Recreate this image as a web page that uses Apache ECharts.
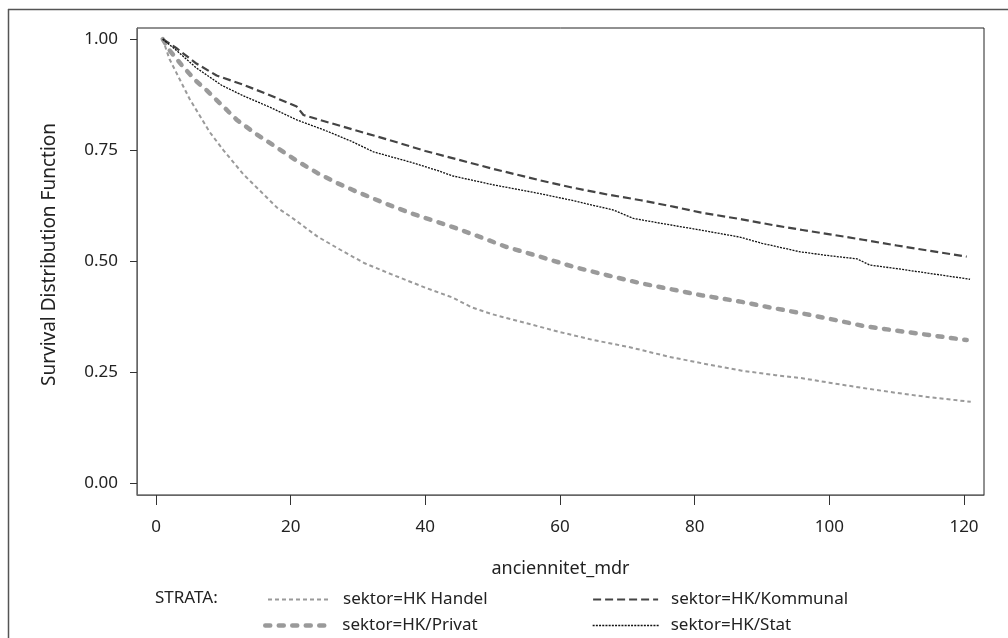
<!DOCTYPE html>
<html>
<head>
<meta charset="utf-8">
<script src="https://cdn.jsdelivr.net/npm/echarts@6/dist/echarts.min.js"></script>
<style>
html,body{margin:0;padding:0;background:#fff;}
#chart{width:1008px;height:638px;}
</style>
</head>
<body>
<div id="chart"></div>
<script>
// ---- data ----
const xTicks = [0, 20, 40, 60, 80, 100, 120];
const yTicks = [0, 0.25, 0.5, 0.75, 1];

const handelX = [1, 2, 3, 4, 5, 6, 8, 10, 13, 16, 18, 20, 24, 28, 31, 35, 40, 44, 47, 50, 57, 60, 65, 70, 72, 76, 81, 87, 92, 96, 100, 105, 110, 115, 121];
const handelY = [1.000, 0.955, 0.925, 0.895, 0.865, 0.840, 0.790, 0.750, 0.695, 0.650, 0.620, 0.600, 0.555, 0.520, 0.495, 0.470, 0.440, 0.418, 0.395, 0.380, 0.352, 0.340, 0.322, 0.307, 0.300, 0.285, 0.270, 0.253, 0.243, 0.236, 0.226, 0.214, 0.203, 0.193, 0.183];

const privatX = [1, 2, 4, 6, 7.5, 10, 12, 15, 18, 21, 24, 27, 30, 34, 38, 44, 48, 52, 57, 62, 67, 72, 76, 81, 87, 91, 96, 100, 105, 110, 115, 120.4];
const privatY = [1.000, 0.975, 0.938, 0.905, 0.885, 0.848, 0.818, 0.785, 0.755, 0.725, 0.698, 0.675, 0.655, 0.630, 0.607, 0.577, 0.555, 0.532, 0.510, 0.487, 0.468, 0.450, 0.438, 0.423, 0.408, 0.396, 0.382, 0.370, 0.354, 0.343, 0.333, 0.322];

const kommunalX = [1, 3, 6, 9, 13, 17, 20.9, 21.9, 25, 30, 35, 40, 45, 50, 57, 62, 67, 72, 77, 81, 87, 92, 96, 100.6, 105, 110, 115, 120.4];
const kommunalY = [1.000, 0.980, 0.945, 0.918, 0.897, 0.873, 0.848, 0.829, 0.815, 0.793, 0.771, 0.748, 0.728, 0.708, 0.682, 0.665, 0.650, 0.637, 0.622, 0.609, 0.594, 0.580, 0.570, 0.559, 0.548, 0.535, 0.523, 0.510];

const statX = [1, 3, 6, 9.75, 13, 17, 20.9, 25, 29, 32.3, 38, 42, 44, 50, 57, 62, 67.9, 70.9, 75, 80.8, 86.7, 90, 95.6, 100, 104.1, 106, 110, 115, 120.9];
const statY = [1.000, 0.975, 0.935, 0.896, 0.872, 0.846, 0.818, 0.795, 0.770, 0.746, 0.722, 0.703, 0.692, 0.672, 0.652, 0.636, 0.615, 0.596, 0.585, 0.570, 0.554, 0.540, 0.521, 0.512, 0.505, 0.491, 0.483, 0.472, 0.459];

const names = ['sektor=HK Handel', 'sektor=HK/Privat', 'sektor=HK/Kommunal', 'sektor=HK/Stat'];

function pairs(xs, ys) { return xs.map((x, i) => [x, ys[i]]); }

const FONT = '"Noto Sans", "Open Sans", sans-serif';
const chart = echarts.init(document.getElementById('chart'), null, {renderer: 'canvas'});

const styles = [
  {color: '#9a9a9a', width: 2,   type: [4, 3], cap: 'butt'},
  {color: '#9a9a9a', width: 4.5, type: [5, 8.5], cap: 'round'},
  {color: '#444444', width: 2.2, type: [8, 4], cap: 'butt'},
  {color: '#111111', width: 1.3, type: [2, 1.2], cap: 'butt'}
];
const dataSets = [pairs(handelX, handelY), pairs(privatX, privatY), pairs(kommunalX, kommunalY), pairs(statX, statY)];

const legendPos = [
  {left: 267, top: 591, w: 61, pad: 9},
  {left: 263, top: 617, w: 62, pad: 10},
  {left: 592, top: 591, w: 65, pad: 8},
  {left: 592, top: 617, w: 66, pad: 7}
];

const option = {
  animation: false,
  backgroundColor: '#ffffff',
  grid: {left: 137, top: 28, width: 847, height: 467, show: true, borderColor: '#222', borderWidth: 1, backgroundColor: 'transparent', containLabel: false},
  xAxis: {
    type: 'value', min: -2.82, max: 122.97,
    name: 'anciennitet_mdr', nameLocation: 'middle', nameGap: 65,
    nameTextStyle: {fontFamily: FONT, fontSize: 18, color: '#222'},
    axisLine: {show: true, onZero: false, lineStyle: {color: '#666', width: 1}},
    axisTick: {show: true, length: 10, customValues: xTicks, lineStyle: {color: '#333', width: 1}},
    axisLabel: {customValues: xTicks, margin: 24, fontFamily: FONT, fontSize: 17, color: '#222'},
    splitLine: {show: false}
  },
  yAxis: {
    type: 'value', min: -0.027, max: 1.025,
    name: 'Survival Distribution Function', nameLocation: 'middle', nameGap: 78,
    nameTextStyle: {fontFamily: FONT, fontSize: 19, color: '#222', padding: [0, 0, 0, 14]},
    axisLine: {show: true, onZero: false, lineStyle: {color: '#666', width: 1}},
    axisTick: {show: true, length: 7, customValues: yTicks, lineStyle: {color: '#333', width: 1}},
    axisLabel: {customValues: yTicks, margin: 19, fontFamily: FONT, fontSize: 17, color: '#222',
      formatter: v => Number(v).toFixed(2)},
    splitLine: {show: false}
  },
  legend: legendPos.map((p, i) => ({
    data: [names[i]], left: p.left, top: p.top, padding: 0,
    itemWidth: p.w, itemHeight: 14,
    lineStyle: {width: styles[i].width, type: styles[i].type, cap: styles[i].cap, color: styles[i].color},
    itemStyle: {opacity: 0},
    textStyle: {fontFamily: FONT, fontSize: 17, color: '#222', padding: [0, 0, 0, p.pad]},
    selectedMode: false
  })),
  graphic: [
    {type: 'line', shape: {x1: 8, y1: 9.5, x2: 1008, y2: 9.5}, style: {stroke: '#555', lineWidth: 1.5}, silent: true},
    {type: 'line', shape: {x1: 8.5, y1: 9, x2: 8.5, y2: 638}, style: {stroke: '#555', lineWidth: 1.5}, silent: true},
    {type: 'text', left: 155, top: 590, style: {text: 'STRATA:', font: '17px ' + FONT, fill: '#222'}, silent: true}
  ],
  series: names.map((n, i) => ({
    name: n, type: 'line', data: dataSets[i], symbol: 'none', showSymbol: false,
    lineStyle: {color: styles[i].color, width: styles[i].width, type: styles[i].type, cap: styles[i].cap, join: 'round'},
    itemStyle: {color: styles[i].color},
    clip: false, z: 2 + i
  }))
};
chart.setOption(option);
</script>
</body>
</html>
